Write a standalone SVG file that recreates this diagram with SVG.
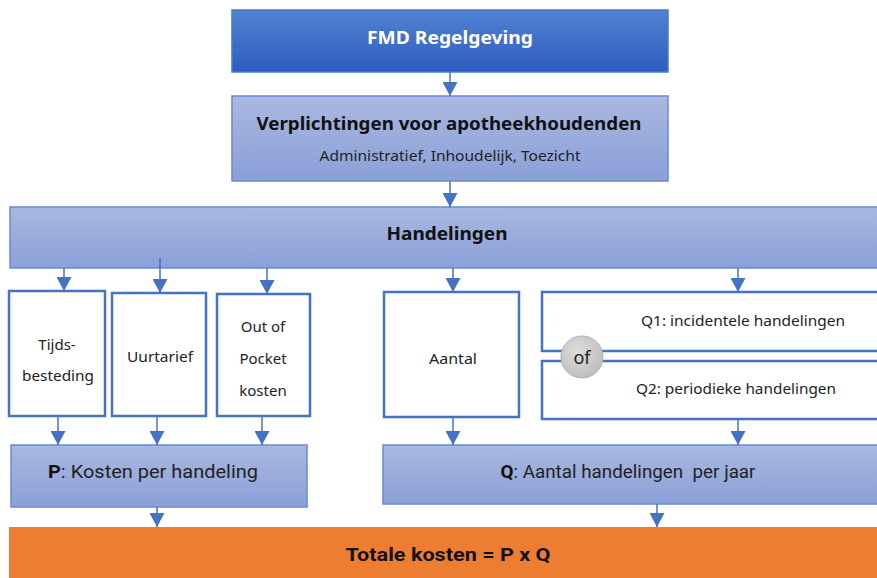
<svg xmlns="http://www.w3.org/2000/svg" width="877" height="578" viewBox="0 0 877 578">
<defs>
<linearGradient id="gDark" x1="0" y1="0" x2="0" y2="1"><stop offset="0" stop-color="#5282D3"/><stop offset="1" stop-color="#2D5DBE"/></linearGradient>
<linearGradient id="gLight" x1="0" y1="0" x2="0" y2="1"><stop offset="0" stop-color="#AAB8E0"/><stop offset="1" stop-color="#8AA0D8"/></linearGradient>
<radialGradient id="gGray" cx="0.4" cy="0.35" r="0.7"><stop offset="0" stop-color="#DCDCDC"/><stop offset="1" stop-color="#BDBDBD"/></radialGradient>
<marker id="ah" markerWidth="15" markerHeight="15" refX="14" refY="7.5" orient="auto" markerUnits="userSpaceOnUse"><path d="M0,0 L14,7.5 L0,15 Z" fill="#4472C4"/></marker>
</defs>
<style>
.dark{fill:url(#gDark);stroke:#4A78CC;stroke-width:1.5}
.light{fill:url(#gLight);stroke:#6A8BD0;stroke-width:1.5}
.white{fill:#fff;stroke:#4472C4;stroke-width:2.5}
.orange{fill:#ED7D31}
.c line{stroke:#4472C4;stroke-width:1.5;marker-end:url(#ah)}
text{font-family:"Noto Sans","Open Sans",sans-serif;fill:#222;text-anchor:middle}
.b{font-weight:bold;fill:#111}
.cal{font-family:"Liberation Sans Narrow","Roboto","Liberation Sans",sans-serif}
</style>
<g id="fmd"><rect class="dark" x="232" y="10" width="436" height="62"/><text x="450" y="44" class="b" style="fill:#fff" font-size="18" textLength="166" lengthAdjust="spacingAndGlyphs">FMD Regelgeving</text></g>
<g id="verplichtingen"><rect class="light" x="232" y="96" width="436" height="85"/><text x="449" y="130" class="b" font-size="18" textLength="385" lengthAdjust="spacingAndGlyphs">Verplichtingen voor apotheekhoudenden</text><text x="450" y="161" font-size="13.5" textLength="261" lengthAdjust="spacingAndGlyphs">Administratief, Inhoudelijk, Toezicht</text></g>
<g id="handelingen"><rect class="light" x="10" y="207" width="880" height="61"/><text x="447" y="240" class="b" font-size="17" textLength="121" lengthAdjust="spacingAndGlyphs">Handelingen</text></g>
<g id="tijds"><rect class="white" x="9" y="291" width="96" height="125"/><text x="57" y="350" font-size="15">Tijds-</text><text x="58" y="381" font-size="15" textLength="72" lengthAdjust="spacingAndGlyphs">besteding</text></g>
<g id="uurtarief"><rect class="white" x="112" y="293" width="94" height="123"/><text x="160" y="362" font-size="15" textLength="66" lengthAdjust="spacingAndGlyphs">Uurtarief</text></g>
<g id="outofpocket"><rect class="white" x="217" y="294" width="93" height="122"/><text x="263" y="332" font-size="15">Out of</text><text x="263" y="364" font-size="15">Pocket</text><text x="263" y="396" font-size="15">kosten</text></g>
<g id="aantal"><rect class="white" x="384" y="292" width="135" height="125"/><text x="453" y="364" font-size="15" textLength="48" lengthAdjust="spacingAndGlyphs">Aantal</text></g>
<g id="q1"><rect class="white" x="542" y="292" width="345" height="59"/><text x="743" y="326" font-size="14.5" textLength="204" lengthAdjust="spacingAndGlyphs">Q1: incidentele handelingen</text></g>
<g id="q2"><rect class="white" x="542" y="361" width="345" height="58"/><text x="736" y="394" font-size="14.5" textLength="200" lengthAdjust="spacingAndGlyphs">Q2: periodieke handelingen</text></g>
<g id="of"><circle cx="582" cy="357" r="21" fill="url(#gGray)" stroke="#AFAFAF" stroke-width="1"/><text x="582" y="364" font-size="18">of</text></g>
<g id="p"><rect class="light" x="11" y="445" width="296" height="62"/><text x="153" y="478" class="cal" font-size="18" textLength="210" lengthAdjust="spacingAndGlyphs"><tspan font-weight="bold" fill="#111">P</tspan>: Kosten per handeling</text></g>
<g id="q"><rect class="light" x="383" y="445" width="510" height="59"/><text x="628" y="478" class="cal" font-size="18" textLength="255" lengthAdjust="spacingAndGlyphs" xml:space="preserve"><tspan font-weight="bold" fill="#111">Q</tspan>: Aantal handelingen  per jaar</text></g>
<g id="totale"><rect class="orange" x="9" y="527" width="880" height="60"/><text x="448" y="561" class="b cal" font-size="19" textLength="205" lengthAdjust="spacingAndGlyphs">Totale kosten = P x Q</text></g>
<g class="c" id="connectors">
<line x1="450" y1="72" x2="450" y2="96"/>
<line x1="450" y1="181" x2="450" y2="207"/>
<line x1="64" y1="268" x2="64" y2="291"/>
<line x1="160" y1="258" x2="160" y2="293"/>
<line x1="267" y1="268" x2="267" y2="294"/>
<line x1="453" y1="268" x2="453" y2="292"/>
<line x1="738" y1="268" x2="738" y2="292"/>
<line x1="58" y1="416" x2="58" y2="445"/>
<line x1="157" y1="416" x2="157" y2="445"/>
<line x1="262" y1="416" x2="262" y2="445"/>
<line x1="453" y1="417" x2="453" y2="445"/>
<line x1="738" y1="419" x2="738" y2="445"/>
<line x1="157" y1="507" x2="157" y2="527"/>
<line x1="657" y1="504" x2="657" y2="527"/>
</g>
</svg>
